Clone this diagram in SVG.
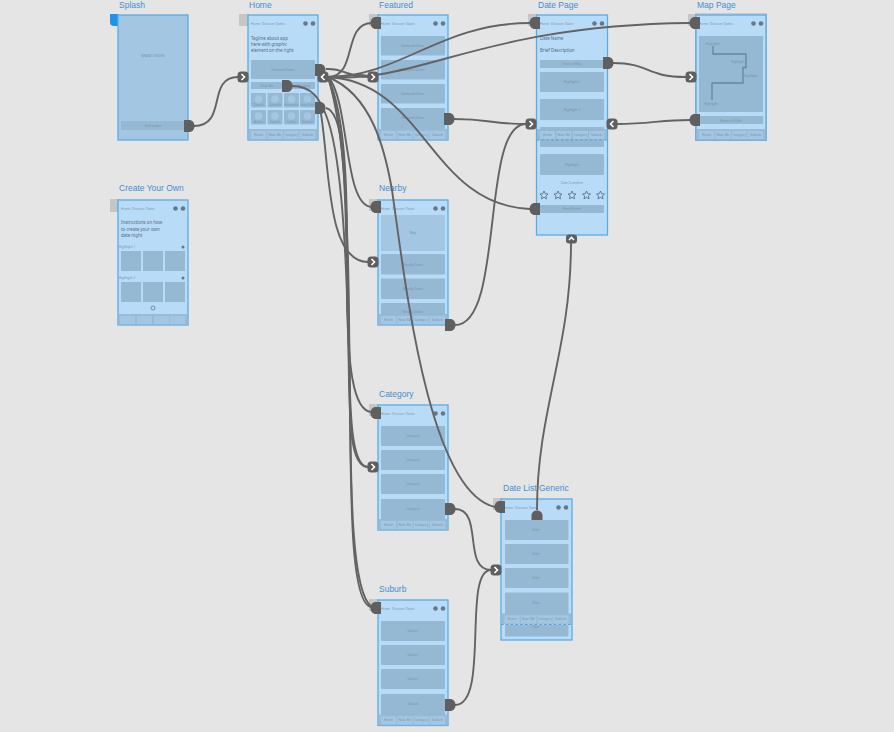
<svg xmlns="http://www.w3.org/2000/svg" width="894" height="732" viewBox="0 0 894 732">
<style>
text{font-family:"Noto Sans","Liberation Sans",sans-serif}
.title{font-family:"Liberation Sans",Arial,sans-serif;font-size:8.5px;fill:#3f8fd2}
.scr{fill:#b8dcf8;stroke:#58ace6;stroke-width:1.3}
.blk{fill:#95b8d3}
.lite{fill:#a3c7e2}
.cap{font-size:3.2px;fill:#7d93a6;text-anchor:middle}
.nav{font-size:3.2px;fill:#7d93a6}
.body{font-size:4.4px;fill:#56697a}
.tabbg{fill:#8fb6d4;opacity:.85}
.cell{fill:#a3c7e2}
.ic{fill:#66788a}
.corner{fill:#c6c6c6}
.dash{stroke:#4aa3e0;stroke-width:1.1;stroke-dasharray:2.4 2.4;fill:none}
.c{fill:none;stroke:#636363;stroke-width:1.9}
.p{fill:#5f5f5f}
.chev{fill:none;stroke:#fff;stroke-width:1.6}
</style>
<defs>
<g id="hdr">
<text class="nav" x="3" y="10">Home</text><text class="nav" x="14" y="10">Discover</text><text class="nav" x="28" y="10">Dates</text>
<circle class="ic" cx="57.500" cy="8.500" r="2.300"/><circle class="ic" cx="65" cy="8.500" r="2.300"/>
</g>
<g id="tabs">
<rect class="tabbg" x="0" y="0" width="70" height="11"/>
<rect class="cell" x="3" y="2" width="15" height="8"/><rect class="cell" x="19.500" y="2" width="15" height="8"/><rect class="cell" x="36" y="2" width="15" height="8"/><rect class="cell" x="52" y="2" width="15" height="8"/>
<text class="cap" x="10.500" y="6.800">Home</text><text class="cap" x="27" y="6.800">Near Me</text><text class="cap" x="43.500" y="6.800">Category</text><text class="cap" x="59.500" y="6.800">Suburb</text>
</g>
<path id="out" d="M-5,-6H0C3.500,-6 5.500,-3.300 5.500,0C5.500,3.300 3.500,6 0,6H-5Z"/>
<g id="inn"><rect class="p" x="-5.500" y="-5.500" width="11" height="11" rx="3.500"/><path class="chev" d="M-1.500,-3L1.500,0L-1.500,3"/></g>
<g id="inl"><rect class="p" x="-5.500" y="-5.500" width="11" height="11" rx="3.500"/><path class="chev" d="M1.500,-3L-1.500,0L1.500,3"/></g>
<path id="star" d="M0,-4L1.200,-1.300L4,-1L1.900,0.900L2.500,3.800L0,2.300L-2.500,3.800L-1.900,0.900L-4,-1L-1.200,-1.300Z" fill="none" stroke="#4f6476" stroke-width=".8"/>
</defs>

<rect width="894" height="732" fill="#e5e5e5"/>

<g id="splash">
<text class="title" x="119" y="7.800">Splash</text>
<path d="M110,14H118V26H114Q110,26 110,22Z" fill="#1f93ea"/>
<rect x="118" y="15" width="70" height="125" fill="#a3c7e2" stroke="#58ace6" stroke-width="1.300"/>
<text class="cap" x="153" y="57">BRAND DESIGN</text>
<rect class="blk" x="121" y="121" width="64" height="9"/>
<text class="cap" x="153" y="127">Find a date</text>
</g>

<g id="home">
<text class="title" x="249" y="7.800">Home</text>
<rect class="corner" x="239" y="14" width="10" height="12"/>
<rect class="scr" x="248" y="15" width="70" height="125"/>
<use href="#hdr" x="248" y="15"/>
<text class="body" x="251" y="39.500">Tagline about app</text><text class="body" x="251" y="45.500">here with graphic</text><text class="body" x="251" y="51.500">element on the right</text>
<rect class="blk" x="251" y="60" width="64" height="19" rx="1"/><text class="cap" x="283" y="71">Featured Dates</text>
<rect class="blk" x="251" y="82" width="31" height="7" rx="1"/><text class="cap" x="267" y="87">Near Me</text>
<rect class="blk" x="284" y="82" width="31" height="7" rx="1"/><text class="cap" x="304" y="87">Surprise</text>
<g id="tiles">
<rect class="blk" x="251" y="93" width="15" height="14.500" rx="1"/><rect class="blk" x="267.500" y="93" width="15" height="14.500" rx="1"/><rect class="blk" x="284" y="93" width="15" height="14.500" rx="1"/><rect class="blk" x="300" y="93" width="15" height="14.500" rx="1"/>
<rect class="blk" x="251" y="110" width="15" height="14.500" rx="1"/><rect class="blk" x="267.500" y="110" width="15" height="14.500" rx="1"/><rect class="blk" x="284" y="110" width="15" height="14.500" rx="1"/><rect class="blk" x="300" y="110" width="15" height="14.500" rx="1"/>
<circle class="lite" cx="258.500" cy="99" r="3.800"/><circle class="lite" cx="275" cy="99" r="3.800"/><circle class="lite" cx="291.500" cy="99" r="3.800"/><circle class="lite" cx="307.500" cy="99" r="3.800"/>
<circle class="lite" cx="258.500" cy="116" r="3.800"/><circle class="lite" cx="275" cy="116" r="3.800"/><circle class="lite" cx="291.500" cy="116" r="3.800"/><circle class="lite" cx="307.500" cy="116" r="3.800"/>
<text class="cap" x="258.500" y="106">Dinner</text><text class="cap" x="275" y="106">Outside</text><text class="cap" x="291.500" y="106">Romantic</text><text class="cap" x="307.500" y="106">First Date</text>
<text class="cap" x="258.500" y="123">Active</text><text class="cap" x="275" y="123">Lunch</text><text class="cap" x="291.500" y="123">Coffee</text><text class="cap" x="307.500" y="123">Culture</text>
</g>
<use href="#tabs" x="248" y="129"/>
</g>

<g id="create">
<text class="title" x="119" y="191">Create Your Own</text>
<rect class="corner" x="110" y="199" width="10" height="13"/>
<rect class="scr" x="118" y="200" width="70" height="125"/>
<use href="#hdr" x="118" y="200"/>
<text class="body" x="121" y="224">Instructions on how</text><text class="body" x="121" y="231">to create your own</text><text class="body" x="121" y="237">date night</text>
<text class="cap" x="127" y="248">Highlight 1</text><circle class="ic" cx="183" cy="247" r="1.500"/>
<rect class="blk" x="121" y="251" width="20" height="20"/><rect class="blk" x="143" y="251" width="20" height="20"/><rect class="blk" x="165" y="251" width="20" height="20"/>
<text class="cap" x="127" y="279">Highlight 2</text><circle class="ic" cx="183" cy="278" r="1.500"/>
<rect class="blk" x="121" y="282" width="20" height="20"/><rect class="blk" x="143" y="282" width="20" height="20"/><rect class="blk" x="165" y="282" width="20" height="20"/>
<circle cx="153" cy="308" r="2" fill="none" stroke="#66788a" stroke-width=".8"/>
<rect class="tabbg" x="118" y="314" width="70" height="11"/>
<rect class="cell" x="120" y="316" width="15" height="8"/><rect class="cell" x="137" y="316" width="15" height="8"/><rect class="cell" x="154" y="316" width="15" height="8"/><rect class="cell" x="170" y="316" width="15" height="8"/>
</g>

<g id="featured">
<text class="title" x="379" y="7.800">Featured</text>
<rect class="corner" x="369" y="14" width="10" height="12"/>
<rect class="scr" x="378" y="15" width="70" height="125"/>
<use href="#hdr" x="378" y="15"/>
<rect class="blk" x="381" y="36" width="64" height="19.500" rx="1"/><text class="cap" x="413" y="47">Featured Dates</text>
<rect class="blk" x="381" y="60" width="64" height="19.500" rx="1"/><text class="cap" x="413" y="71">Featured Dates</text>
<rect class="blk" x="381" y="84" width="64" height="19.500" rx="1"/><text class="cap" x="413" y="95">Featured Dates</text>
<rect class="blk" x="381" y="108" width="64" height="21" rx="1"/><text class="cap" x="413" y="119">Featured Dates</text>
<use href="#tabs" x="378" y="129"/>
</g>

<g id="datepage">
<text class="title" x="538" y="7.800">Date Page</text>
<rect class="corner" x="528" y="14" width="10" height="12"/>
<rect class="scr" x="536.500" y="15" width="71" height="220"/>
<use href="#hdr" x="537" y="15"/>
<text class="body" x="540" y="39.500">Date Name</text><text class="body" x="540" y="51.500">Brief Description</text>
<rect class="blk" x="540" y="60" width="64" height="8" rx="1"/><text class="cap" x="572" y="65">View on Map</text>
<rect class="blk" x="540" y="72" width="64" height="20" rx="1"/><text class="cap" x="572" y="83">Highlight 1</text>
<rect class="blk" x="540" y="99" width="64" height="21" rx="1"/><text class="cap" x="572" y="111">Highlight 2</text>
<rect class="blk" x="540" y="127" width="64" height="20" rx="1"/>
<use href="#tabs" x="537" y="129"/>
<path class="dash" d="M537,140H607"/>
<rect class="blk" x="540" y="154" width="64" height="21" rx="1"/><text class="cap" x="572" y="166">Highlight</text>
<text class="cap" x="572" y="184">Date Complete</text>
<use href="#star" x="544" y="195"/><use href="#star" x="558" y="195"/><use href="#star" x="572" y="195"/><use href="#star" x="586.500" y="195"/><use href="#star" x="600.500" y="195"/>
<rect class="blk" x="540" y="205" width="64" height="8" rx="1"/><text class="cap" x="572" y="210">Reset/Home</text>
</g>

<g id="mappage">
<text class="title" x="697" y="7.800">Map Page</text>
<rect class="corner" x="688" y="14" width="10" height="12"/>
<rect x="695.500" y="14" width="71" height="126.500" fill="none" stroke="#aeb4b9" stroke-width="1"/>
<rect class="scr" x="696" y="15" width="70" height="125"/>
<use href="#hdr" x="696" y="15"/>
<rect class="blk" x="699" y="36" width="64" height="76"/>
<path d="M713,46V54H746V67.500H743V83H712V100" fill="none" stroke="#5f87a7" stroke-width="1.300"/>
<text class="cap" x="713" y="45">Highlight</text><text class="cap" x="738" y="62.500">Highlight</text><text class="cap" x="751" y="77">Highlight</text><text class="cap" x="711" y="104.500">Highlight</text>
<rect class="blk" x="699" y="116" width="64" height="8"/><text class="cap" x="731" y="121.500">Return to Date</text>
<use href="#tabs" x="696" y="129"/>
</g>

<g id="nearby">
<text class="title" x="379" y="191">Nearby</text>
<rect class="corner" x="369" y="199" width="10" height="12"/>
<rect class="scr" x="378" y="200" width="70" height="125"/>
<use href="#hdr" x="378" y="200"/>
<rect class="lite" x="381" y="215" width="64" height="36" rx="1"/><text class="cap" x="413" y="234">Map</text>
<rect class="blk" x="381" y="254" width="64" height="20.500" rx="1"/><text class="cap" x="413" y="266">Nearby Dates</text>
<rect class="blk" x="381" y="278.500" width="64" height="20.500" rx="1"/><text class="cap" x="413" y="290">Nearby Dates</text>
<rect class="blk" x="381" y="303" width="64" height="12" rx="1"/><text class="cap" x="413" y="313">Nearby Dates</text>
<use href="#tabs" x="378" y="314"/>
</g>

<g id="category">
<text class="title" x="379" y="397">Category</text>
<rect class="corner" x="369" y="404" width="10" height="12"/>
<rect class="scr" x="378" y="405" width="70" height="125"/>
<use href="#hdr" x="378" y="405"/>
<rect class="blk" x="381" y="426" width="64" height="20" rx="1"/><text class="cap" x="413" y="437">Category</text>
<rect class="blk" x="381" y="450" width="64" height="20" rx="1"/><text class="cap" x="413" y="461">Category</text>
<rect class="blk" x="381" y="474" width="64" height="20" rx="1"/><text class="cap" x="413" y="485">Category</text>
<rect class="blk" x="381" y="499" width="64" height="21" rx="1"/><text class="cap" x="413" y="510">Category</text>
<use href="#tabs" x="378" y="519"/>
</g>

<g id="suburb">
<text class="title" x="379" y="592">Suburb</text>
<rect class="corner" x="369" y="599" width="10" height="12"/>
<rect class="scr" x="378" y="600" width="70" height="125.500"/>
<use href="#hdr" x="378" y="600"/>
<rect class="blk" x="381" y="621" width="64" height="20" rx="1"/><text class="cap" x="413" y="632">Suburb</text>
<rect class="blk" x="381" y="645" width="64" height="20" rx="1"/><text class="cap" x="413" y="656">Suburb</text>
<rect class="blk" x="381" y="669" width="64" height="20" rx="1"/><text class="cap" x="413" y="680">Suburb</text>
<rect class="blk" x="381" y="694" width="64" height="21" rx="1"/><text class="cap" x="413" y="705">Suburb</text>
<use href="#tabs" x="378" y="714.500"/>
</g>

<g id="datelist">
<text class="title" x="503" y="491">Date List Generic</text>
<rect class="corner" x="493" y="498" width="10" height="12"/>
<rect class="scr" x="501" y="499" width="71" height="141"/>
<use href="#hdr" x="501" y="499"/>
<rect class="blk" x="505" y="520" width="63.500" height="20" rx="1"/><text class="cap" x="536" y="531">Date</text>
<rect class="blk" x="505" y="544" width="63.500" height="20" rx="1"/><text class="cap" x="536" y="555">Date</text>
<rect class="blk" x="505" y="568" width="63.500" height="20" rx="1"/><text class="cap" x="536" y="579">Date</text>
<rect class="blk" x="505" y="592.500" width="63.500" height="22" rx="1"/><text class="cap" x="536" y="604">Date</text>
<rect class="blk" x="505" y="625" width="63.500" height="11.500" rx="1"/><text class="cap" x="536" y="628">Date</text>
<use href="#tabs" x="501.500" y="613.500"/>
<path class="dash" d="M501,624.500H572"/>
</g>

<g id="connectors">
<path class="c" d="M194,126C228,126 206,77 238,77"/>
<path class="c" d="M326,69C344,68 345,76 368,77"/>
<path class="c" d="M328,77C358,77 342,23 372,23"/>
<path class="c" d="M328,77C400,77 440,23 530,23"/>
<path class="c" d="M328,77C420,84 480,25 690,23"/>
<path class="c" d="M328,77C345,77 355,73 368,76"/>
<path class="c" d="M328,77C425,82 430,205 530,209"/>
<path class="c" d="M328,77C350,100 343,207 372,207"/>
<path class="c" d="M328,77C352,130 346,250 347,300C348,360 352,412 372,412"/>
<path class="c" d="M328,77C350,140 345,260 348,320C350,400 346,467 368,467"/>
<path class="c" d="M328,77C350,150 347,260 349,340C352,450 346,607 372,607"/>
<path class="c" d="M328,77C372,95 385,150 392,190C405,280 428,492 495,507"/>
<path class="c" d="M292,86C313,86 320,100 326,115C340,150 345,230 348,320C350,400 349,467 368,467"/>
<path class="c" d="M320,108C330,160 325,262 368,262"/>
<path class="c" d="M326,108C345,112 345,180 348,260C352,420 345,590 372,607"/>
<path class="c" d="M454,119C490,119 490,124 526,124"/>
<path class="c" d="M455,325C505,325 480,124 526,124"/>
<path class="c" d="M613,63C650,63 645,77 686,77"/>
<path class="c" d="M690,120C660,120 650,124 617,124"/>
<path class="c" d="M455,509C484,509 462,570 491,570"/>
<path class="c" d="M455,705C490,705 462,570 491,570"/>
<path class="c" d="M537,510C537,410 571,350 571,243"/>
<g class="p">
<use href="#out" x="189" y="126"/><use href="#out" x="320" y="70"/><use href="#out" x="287" y="86"/><use href="#out" x="320" y="108"/>
<use href="#out" x="449" y="119"/><use href="#out" x="450" y="325"/><use href="#out" x="450" y="509"/><use href="#out" x="450" y="705"/><use href="#out" x="608" y="63"/>
<use href="#out" transform="translate(376,23) rotate(180)"/><use href="#out" transform="translate(376,207) rotate(180)"/><use href="#out" transform="translate(376,413) rotate(180)"/><use href="#out" transform="translate(376,608) rotate(180)"/>
<use href="#out" transform="translate(535,23) rotate(180)"/><use href="#out" transform="translate(535,209) rotate(180)"/><use href="#out" transform="translate(695,23) rotate(180)"/><use href="#out" transform="translate(695,120) rotate(180)"/><use href="#out" transform="translate(500,507) rotate(180)"/>
<path d="M531.500,520V515.500C531.500,512.500 534,510.500 537,510.500C540,510.500 542.500,512.500 542.500,515.500V520Z"/>
</g>
<use href="#inn" x="243" y="77"/><use href="#inn" x="373" y="77"/><use href="#inn" x="373" y="262"/><use href="#inn" x="373" y="467"/><use href="#inn" x="531" y="124"/><use href="#inn" x="691" y="77"/><use href="#inn" x="496" y="570"/>
<use href="#inl" x="323" y="77"/><use href="#inl" x="612" y="124"/>
<g transform="translate(571.500,239)"><rect class="p" x="-5.500" y="-4.500" width="11" height="9" rx="3"/><path class="chev" d="M-2.500,1L0,-1.500L2.500,1"/></g>
</g>
</svg>
